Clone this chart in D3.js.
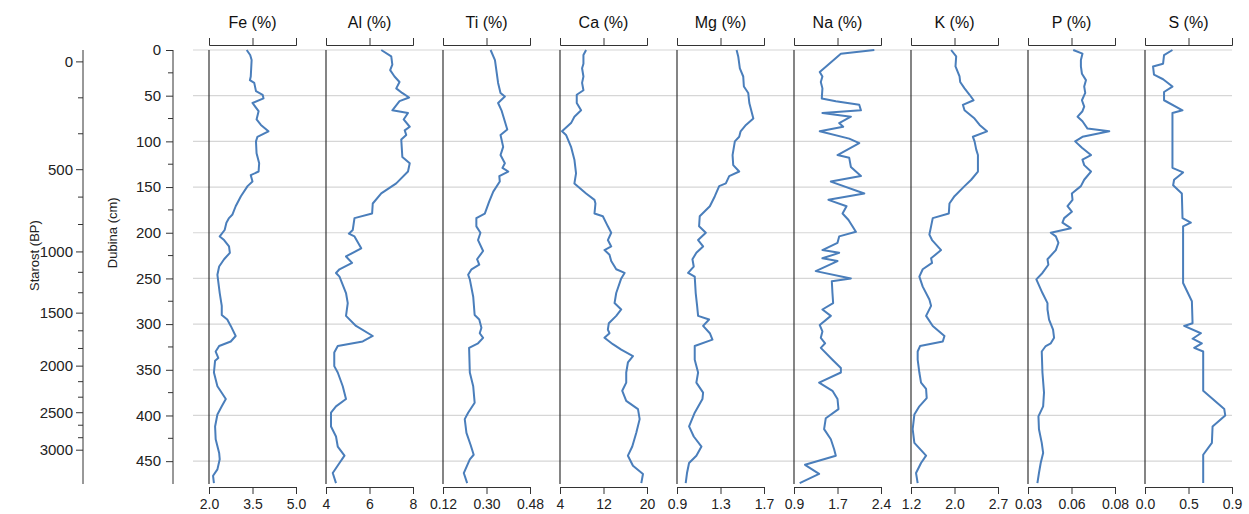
<!DOCTYPE html>
<html><head><meta charset="utf-8">
<script src="https://cdn.jsdelivr.net/npm/d3@7"></script>
<style>body{margin:0;background:#fff;}svg{display:block;font-family:"Liberation Sans",Arial,sans-serif;}</style>
</head><body><svg id="c" width="1249" height="514"></svg>
<script>
// ---- data ----
const elements = ["Fe (%)","Al (%)","Ti (%)","Ca (%)","Mg (%)","Na (%)","K (%)","P (%)","S (%)"];
const domains = [[2,5],[4,8],[0.12,0.48],[4,20],[0.9,1.7],[0.9,2.4],[1.2,2.7],[0.03,0.08],[0,0.9]];
const tickLabels = [["2.0","3.5","5.0"],["4","6","8"],["0.12","0.30","0.48"],["4","12","20"],["0.9","1.3","1.7"],["0.9","1.7","2.4"],["1.2","2.0","2.7"],["0.03","0.06","0.08"],["0.0","0.5","0.9"]];
const depthTicks = [0,50,100,150,200,250,300,350,400,450];
const ageTicks = [0,500,1000,1500,2000,2500,3000];
const ageModelDepth = [13,131,221,288,346,397,438]; // depth (cm) of each age tick

const feDepth = [0,5.5,11,29,33,36,45,49,53,58,67,76,82,89,95,100,113,124,133,137,144,149,160,171,180,184,189,197,204,208,215,222,229,237,246,266,280,290,295,302,313,319,324,330,337,340,353,368,382,390,399,412,426,441,448,459,466,474];
const feValue = [3.3,3.42,3.47,3.44,3.41,3.56,3.62,3.85,3.88,3.5,3.71,3.64,3.79,4.05,3.67,3.62,3.64,3.73,3.71,3.44,3.5,3.33,3.1,2.92,2.81,2.69,2.6,2.54,2.37,2.52,2.69,2.72,2.52,2.35,2.29,2.37,2.44,2.44,2.63,2.75,2.92,2.75,2.35,2.23,2.32,2.21,2.17,2.29,2.58,2.44,2.29,2.21,2.23,2.35,2.37,2.29,2.14,2.17];

const alDepth = [0,7,16,22,29,35,42,47,52,56,66,69,76,84,88,93,98,117,124,133,146,157,168,179,184,197,201,204,217,226,233,240,244,248,266,277,291,302,313,319,324,331,346,353,368,382,390,397,412,423,434,444,452,463,474];
const alValue = [6.54,7.0,7.05,6.95,7.15,7.38,7.23,7.5,7.82,7.38,7.05,7.77,7.57,7.85,7.62,7.69,7.46,7.51,7.85,7.77,7.23,6.54,6.15,6.12,5.31,5.23,5.05,5.31,5.62,4.92,5.2,4.62,4.46,4.62,4.92,5.0,4.92,5.38,6.15,5.69,4.54,4.38,4.38,4.54,4.77,4.92,4.46,4.23,4.23,4.46,4.54,4.85,4.62,4.31,4.46];

const tiDepth = [0,11,36,47,51,58,66,87,93,106,115,124,129,133,138,144,155,166,179,184,193,200,208,220,229,235,240,246,251,270,290,295,304,310,315,321,326,353,368,386,397,404,419,432,443,448,463,474];
const tiValue = [0.317,0.335,0.348,0.358,0.376,0.348,0.362,0.386,0.358,0.369,0.358,0.376,0.366,0.39,0.353,0.355,0.328,0.311,0.293,0.258,0.258,0.275,0.265,0.286,0.261,0.27,0.238,0.224,0.231,0.245,0.251,0.27,0.279,0.272,0.286,0.265,0.228,0.231,0.245,0.251,0.224,0.21,0.217,0.234,0.247,0.231,0.206,0.22];

const caDepth = [0,5.5,15,20,29,36,44,49,58,66,73,80,89,93,106,120,135,146,157,164,168,179,182,193,200,208,215,219,224,231,240,244,250,266,277,284,291,299,306,310,315,322,328,335,342,353,364,373,384,393,404,419,434,444,455,464,474];
const caValue = [8.8,8.31,8.31,8.06,8.31,8.06,8.31,7.08,7.08,7.88,6.65,6.03,4.37,5.11,6.03,6.65,6.95,6.65,8.8,10.34,10.52,10.34,11.88,12.8,13.42,12.8,13.42,12.18,13.1,13.42,14.34,15.88,15.26,14.34,14.03,15.26,14.34,12.98,12.8,13.1,12.18,13.72,15.26,17.42,16.49,16.18,16.18,15.45,16.18,18.34,18.65,18.03,17.29,16.49,17.42,19.26,18.95];

const mgDepth = [0,7,20,29,40,47,58,75,82,89,95,100,115,126,133,138,146,149,160,171,182,193,200,208,215,222,229,237,244,248,266,280,291,295,302,310,317,324,339,353,364,375,382,397,412,423,434,444,452,463,474];
const mgValue = [1.448,1.463,1.478,1.509,1.515,1.555,1.565,1.602,1.534,1.485,1.472,1.432,1.411,1.417,1.472,1.38,1.349,1.288,1.248,1.202,1.109,1.103,1.165,1.094,1.14,1.078,1.042,1.054,1.002,1.063,1.072,1.085,1.094,1.195,1.14,1.202,1.226,1.063,1.063,1.094,1.078,1.14,1.134,1.063,1.011,1.054,1.125,1.078,1.011,0.992,0.98];

const naDepth = [0,4,24,29,35,42,53,56,60,66,69,73,80,84,89,97,102,115,118,128,138,144,157,164,171,179,186,199,204,211,219,222,228,231,242,250,253,266,277,284,291,301,308,315,321,326,339,348,353,364,373,382,393,403,415,426,437,444,454,464,474];
const naValue = [2.285,1.708,1.344,1.39,1.362,1.39,1.379,1.621,2.025,2.054,1.39,1.881,1.679,1.748,1.344,1.852,2.025,1.65,1.852,1.881,2.054,1.535,2.112,1.494,1.806,1.737,1.84,1.967,1.679,1.65,1.39,1.679,1.39,1.65,1.275,1.881,1.552,1.563,1.575,1.39,1.535,1.344,1.39,1.362,1.437,1.362,1.563,1.708,1.708,1.333,1.563,1.65,1.667,1.448,1.419,1.535,1.592,1.621,1.09,1.333,0.998];

const kDepth = [0,7,18,29,35,42,49,55,60,66,75,82,89,95,100,109,115,133,142,149,160,168,179,184,193,202,208,219,228,233,240,248,259,273,280,291,302,313,319,324,330,339,353,364,371,381,390,399,415,430,444,452,463,474];
const kValue = [1.892,1.979,1.967,2.037,2.048,2.123,2.21,2.279,2.094,2.123,2.296,2.383,2.51,2.267,2.296,2.325,2.354,2.354,2.238,2.123,1.95,1.863,1.852,1.575,1.546,1.517,1.563,1.719,1.546,1.563,1.402,1.344,1.402,1.517,1.546,1.46,1.575,1.777,1.748,1.356,1.315,1.315,1.344,1.373,1.46,1.471,1.344,1.258,1.229,1.258,1.46,1.373,1.287,1.315];

const pDepth = [0,4,11,18,26,33,40,47,55,62,67,73,78,86,89,95,100,107,115,120,126,133,142,149,157,164,171,177,184,189,195,200,204,211,219,229,235,244,251,266,277,284,295,306,315,321,324,330,353,375,390,401,415,430,441,452,463,474];
const pValue = [0.056,0.0613,0.0604,0.0604,0.061,0.0633,0.0623,0.0629,0.061,0.0623,0.0613,0.0585,0.0613,0.0642,0.0767,0.0613,0.0571,0.061,0.0662,0.0613,0.0623,0.0662,0.0623,0.0604,0.0552,0.0556,0.0527,0.0552,0.0508,0.0498,0.0546,0.0431,0.046,0.0475,0.046,0.0412,0.0417,0.0383,0.0348,0.0383,0.0412,0.0412,0.0421,0.0444,0.045,0.0431,0.0402,0.0379,0.0383,0.0392,0.0387,0.036,0.0363,0.0379,0.0387,0.0373,0.0363,0.0354];

const sDepth = [0,5.5,15,18,27,32,40,46,55,66,69,129,134,142,148,157,184,189,193,255,275,299,302,310,316,321,326,330,373,393,400,412,430,443,474];
const sValue = [0.284,0.197,0.187,0.083,0.093,0.187,0.284,0.197,0.197,0.388,0.284,0.284,0.394,0.301,0.291,0.381,0.388,0.474,0.394,0.394,0.485,0.492,0.405,0.578,0.492,0.588,0.509,0.602,0.602,0.82,0.83,0.699,0.692,0.602,0.602];

const seriesDepth = [feDepth,alDepth,tiDepth,caDepth,mgDepth,naDepth,kDepth,pDepth,sDepth];
const seriesValue = [feValue,alValue,tiValue,caValue,mgValue,naValue,kValue,pValue,sValue];

// ---- layout ----
const svg = d3.select("#c");
const yTop = 50, yBot = 484;
const y = d3.scaleLinear().domain([0,475]).range([yTop,yBot]);
const panelLeft = 209, panelStep = 117, panelW = 87;
const axisColor = "#333";
const lineColor = "#4a7ebb";

// gridlines
svg.append("g").selectAll("line").data(depthTicks).join("line")
  .attr("x1",193).attr("x2",1232)
  .attr("y1",d=>y(d)).attr("y2",d=>y(d))
  .attr("stroke","#d6d6d6").attr("stroke-width",1.2);

// depth axis
const depthAxis = d3.axisLeft(y).tickValues(depthTicks).tickSize(7).tickPadding(5);
const gD = svg.append("g").attr("transform","translate(173,0)").call(depthAxis);
gD.select(".domain").attr("d",`M0,${yTop}V${yBot}`);
gD.selectAll("line").attr("stroke",axisColor);
gD.select(".domain").attr("stroke",axisColor);
gD.selectAll("text").attr("font-size",15).attr("fill","#222").attr("font-family","Liberation Sans, Arial, sans-serif");
const depthMinor = d3.range(25,475,50);
gD.append("g").selectAll("line").data(depthMinor).join("line")
  .attr("x1",-5).attr("x2",0).attr("y1",d=>y(d)).attr("y2",d=>y(d)).attr("stroke",axisColor);
svg.append("text").attr("transform",`translate(117,${y(200)}) rotate(-90)`)
  .attr("text-anchor","middle").attr("font-size",13).attr("fill","#222").text("Dubina (cm)");

// age axis (age -> depth -> y)
const ageToDepth = d3.scaleLinear().domain(ageTicks).range(ageModelDepth);
const ageY = a => y(ageToDepth(a));
const gA = svg.append("g").attr("transform","translate(83,0)");
gA.append("line").attr("x1",0).attr("x2",0).attr("y1",yTop).attr("y2",yBot).attr("stroke",axisColor);
gA.selectAll(".maj").data(ageTicks).join("line").attr("class","maj")
  .attr("x1",-7).attr("x2",0).attr("y1",ageY).attr("y2",ageY).attr("stroke",axisColor);
const ageMinor = [];
for(let i=0;i<ageTicks.length-1;i++){ const a=ageTicks[i], b=ageTicks[i+1]; ageMinor.push(a+(b-a)/3, a+2*(b-a)/3); }
gA.selectAll(".min").data(ageMinor).join("line").attr("class","min")
  .attr("x1",-5).attr("x2",0).attr("y1",ageY).attr("y2",ageY).attr("stroke",axisColor);
gA.selectAll("text").data(ageTicks).join("text")
  .attr("x",-10).attr("y",ageY).attr("dy","0.35em").attr("text-anchor","end")
  .attr("font-size",15).attr("fill","#222").text(d=>d);
svg.append("text").attr("transform",`translate(39,${y(225)}) rotate(-90)`)
  .attr("text-anchor","middle").attr("font-size",13).attr("fill","#222").text("Starost (BP)");

// panels
elements.forEach((name,i)=>{
  const x0 = panelLeft + i*panelStep;
  const dom = domains[i];
  const x = d3.scaleLinear().domain(dom).range([x0, x0+panelW]);
  const tv = [dom[0], (dom[0]+dom[1])/2, dom[1]];
  const g = svg.append("g");
  g.append("line").attr("x1",x0).attr("x2",x0).attr("y1",yTop).attr("y2",yBot).attr("stroke",axisColor).attr("stroke-width",1.2);
  const ta = d3.axisTop(x).tickValues(tv).tickSize(7).tickFormat("");
  const gt = g.append("g").attr("transform","translate(0,45)").call(ta);
  gt.selectAll("line,path").attr("stroke",axisColor);
  const ba = d3.axisBottom(x).tickValues(tv).tickSize(7).tickPadding(5).tickFormat((d,j)=>tickLabels[i][j]);
  const gb = g.append("g").attr("transform","translate(0,487)").call(ba);
  gb.selectAll("line,path").attr("stroke",axisColor);
  gb.selectAll("text").attr("font-size",14).attr("fill","#222").attr("font-family","Liberation Sans, Arial, sans-serif");
  g.append("text").attr("x",x(tv[1])).attr("y",28).attr("text-anchor","middle")
    .attr("font-size",16).attr("fill","#111").text(name);
  const pts = seriesDepth[i].map((d,j)=>[d, seriesValue[i][j]]);
  const line = d3.line().x(p=>x(p[1])).y(p=>y(p[0]));
  g.append("path").attr("d",line(pts)).attr("fill","none")
    .attr("stroke",lineColor).attr("stroke-width",2).attr("stroke-linejoin","round");
});
</script></body></html>
